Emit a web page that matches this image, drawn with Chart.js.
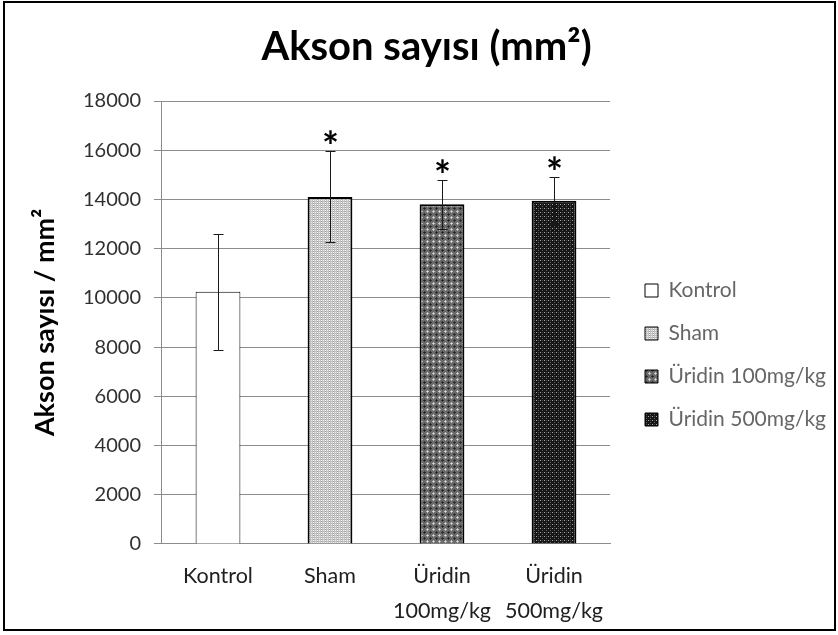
<!DOCTYPE html>
<html lang="tr">
<head>
<meta charset="UTF-8">
<title>Akson sayısı (mm²)</title>
<script src="https://cdn.jsdelivr.net/npm/chart.js"></script>
<style>
    html, body { margin: 0; padding: 0; background: #fff; }
</style>
</head>
<body>
<canvas id="chart" width="838" height="635"></canvas>
<script>
    // veriler
    const categories = [['Kontrol'], ['Sham'], ['Üridin', '100mg/kg'], ['Üridin', '500mg/kg']];
    const legendNames = ['Kontrol', 'Sham', 'Üridin 100mg/kg', 'Üridin 500mg/kg'];
    const meanValues = [10250, 14100, 13800, 13950];
    const errorValues = [2350, 1850, 1000, 950];
    const significant = [false, true, true, true];
    const yTicks = [0, 2000, 4000, 6000, 8000, 10000, 12000, 14000, 16000, 18000];

    const FONT = 'Lato';

    // tarama desenleri (Excel benzeri)
    function makePattern(size, base, dots) {
        const c = document.createElement('canvas');
        c.width = size; c.height = size;
        const g = c.getContext('2d');
        g.fillStyle = base;
        g.fillRect(0, 0, size, size);
        dots.forEach(([x, y, col]) => { g.fillStyle = col; g.fillRect(x, y, 1, 1); });
        return g.createPattern(c, 'repeat');
    }
    const ctx = document.getElementById('chart').getContext('2d');
    const fills = [
        '#ffffff',
        makePattern(4, '#c2c2c2', [[1, 0, '#ffffff'], [1, 1, '#9a9a9a'], [1, 2, '#ffffff'], [1, 3, '#9a9a9a'],
            [3, 0, '#e6e6e6'], [3, 2, '#e6e6e6']]),
        makePattern(6, '#6a6a6a', [[1, 1, '#ddd'], [0, 1, '#bbb'], [2, 1, '#bbb'], [1, 0, '#bbb'], [1, 2, '#bbb'],
            [4, 4, '#222'], [3, 4, '#333'], [5, 4, '#333'], [4, 3, '#333'], [4, 5, '#333']]),
        makePattern(4, '#151515', [[0, 0, '#aaa'], [2, 2, '#666'], [2, 0, '#444']])
    ];
    const borders = [1, 2, 2, 2];

    const errorBars = {
        id: 'errorBars',
        afterDatasetsDraw(chart) {
            const c = chart.ctx;
            const y = chart.scales.y;
            const meta = chart.getDatasetMeta(0);
            c.save();
            c.strokeStyle = '#1a1a1a';
            c.lineWidth = 1;
            c.fillStyle = '#000';
            c.font = 'bold 40px ' + FONT;
            c.textAlign = 'center';
            c.textBaseline = 'alphabetic';
            meta.data.forEach((bar, i) => {
                const x = Math.round(bar.x) + 0.5;
                const top = Math.round(y.getPixelForValue(meanValues[i] + errorValues[i])) + 0.5;
                const bottom = Math.round(y.getPixelForValue(meanValues[i] - errorValues[i])) + 0.5;
                c.beginPath();
                c.moveTo(x, top); c.lineTo(x, bottom);
                c.moveTo(x - 5, top); c.lineTo(x + 5, top);
                c.moveTo(x - 5, bottom); c.lineTo(x + 5, bottom);
                c.stroke();
                if (significant[i]) c.fillText('*', x, top + 9);
            });
            c.restore();
        }
    };

    const frame = {
        id: 'frame',
        beforeDraw(chart) {
            const c = chart.ctx;
            c.save();
            c.fillStyle = '#fff';
            c.fillRect(0, 0, chart.width, chart.height);
            c.restore();
        },
        afterDraw(chart) {
            const c = chart.ctx;
            c.save();
            c.strokeStyle = '#000';
            c.lineWidth = 2;
            c.strokeRect(4, 2, 831, 628);
            c.restore();
        }
    };

    // başlık ve lejandı Excel'deki yerine kaydır
    const nudge = {
        id: 'nudge',
        afterLayout(chart) {
            chart.legend.left += 13;
            chart.legend.right += 40;
            chart.titleBlock.left += 15;
            chart.titleBlock.right += 15;
        }
    };

    new Chart(ctx, {
        type: 'bar',
        data: {
            labels: categories,
            datasets: [{
                data: meanValues,
                backgroundColor: fills,
                borderColor: '#000',
                borderWidth: borders,
                categoryPercentage: 0.8,
                barPercentage: 0.5
            }]
        },
        options: {
            responsive: false,
            animation: false,
            layout: { padding: { left: 16, right: 31, top: 14, bottom: 0 } },
            plugins: {
                title: {
                    display: true,
                    text: 'Akson sayısı (mm²)',
                    color: '#000',
                    font: { family: FONT, size: 40, weight: 'bold' },
                    padding: { top: 9, bottom: 30 }
                },
                legend: {
                    position: 'right',
                    align: 'start',
                    maxWidth: 197,
                    title: { display: true, text: ' ', padding: { top: 232, bottom: 0 }, font: { size: 10 } },
                    labels: {
                        color: '#000',
                        font: { family: FONT, size: 21 },
                        boxWidth: 13,
                        boxHeight: 13,
                        padding: 22,
                        generateLabels: () => legendNames.map((name, i) => ({
                            text: name,
                            fillStyle: fills[i],
                            strokeStyle: '#000',
                            lineWidth: 1,
                            index: i
                        }))
                    }
                },
                tooltip: { enabled: false }
            },
            scales: {
                x: {
                    grid: { display: false },
                    border: { color: '#8c8c8c', width: 1 },
                    ticks: {
                        color: '#202020',
                        font: { family: FONT, size: 21.5, lineHeight: 1.63 },
                        padding: 6.5,
                        maxRotation: 0,
                        autoSkip: false
                    }
                },
                y: {
                    min: 0,
                    max: 18000,
                    afterBuildTicks: s => { s.ticks = yTicks.map(v => ({ value: v })); },
                    grid: { color: '#8c8c8c', lineWidth: 1, tickLength: 8 },
                    border: { color: '#8c8c8c', width: 1 },
                    ticks: {
                        color: '#303030',
                        font: { family: FONT, size: 20 },
                        padding: 13,
                        callback: v => String(v)
                    },
                    title: {
                        display: true,
                        text: 'Akson sayısı / mm²',
                        color: '#000',
                        font: { family: FONT, size: 27, weight: 'bold' },
                        padding: { top: 13, bottom: 8.6 }
                    }
                }
            }
        },
        plugins: [frame, errorBars, nudge]
    });
</script>
</body>
</html>
